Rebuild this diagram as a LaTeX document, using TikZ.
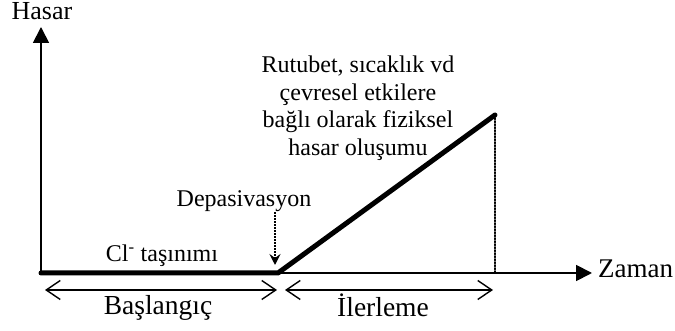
\documentclass[tikz,border=0pt]{standalone}
\usepackage{fontspec}
\setmainfont{Liberation Serif}
\usepackage{tkz-euclide}
\usetikzlibrary{arrows.meta}

\tikzset{
  axis/.style={line width=1.8pt, -{Triangle[length=16pt,width=16pt]}},
  damage/.style={line width=5pt, line cap=round, line join=round},
  dimline/.style={line width=1.4pt, {Straight Barb[length=14pt,width=19pt]}-{Straight Barb[length=14pt,width=19pt]}},
  guide/.style={line width=1.4pt, dash pattern=on 1.5pt off 1.5pt},
  lbl/.style={inner sep=0pt, font=\fontsize{24}{27.5}\selectfont},
  biglbl/.style={inner sep=0pt, font=\fontsize{27.5}{30}\selectfont}
}

\begin{document}
\begin{tikzpicture}[x=1pt, y=1pt]
    \useasboundingbox (0,0) rectangle (675,331);
    \tkzDefPoints{41/58/O,41/304/Y,592/58/X,278/58/D,495/216/T,495/58/F}
    \tkzDefPoints{45/41/B1,277/41/B2,285/41/I1,493/41/I2,275/66/P}
    \tkzDrawSegment[axis](O,Y)
    \tkzDrawSegment[axis](O,X)
    \draw[damage] (O) -- (D) -- (T);
    \tkzDrawSegments[guide](T,F)
    \tkzDrawSegments[dimline](B1,B2 I1,I2)
    % etiketler
    \node[lbl, anchor=base, font=\fontsize{26}{30}\selectfont] (hasar) at (42,311) {Hasar};
    \node[lbl, anchor=base west, font=\fontsize{27}{30}\selectfont] (zaman) at (598,53) {Zaman};
    \node[lbl, anchor=base] (depas) at (244,124) {Depasivasyon};
    \node[lbl, anchor=base] (cl) at (162,69) {Cl\textsuperscript{-} taşınımı};
    \node[lbl, anchor=north, align=center] (rutubet) at (358,275)
        {Rutubet, sıcaklık vd\\çevresel etkilere\\bağlı olarak fiziksel\\hasar oluşumu};
    \node[biglbl, anchor=base] (baslangic) at (158,16) {Başlangıç};
    \node[biglbl, anchor=base] (ilerleme) at (383,14) {İlerleme};
    \draw[guide, -{Stealth[length=11pt,width=11pt,inset=4pt]}] (depas.south -| P) -- (P);
\end{tikzpicture}
\end{document}
